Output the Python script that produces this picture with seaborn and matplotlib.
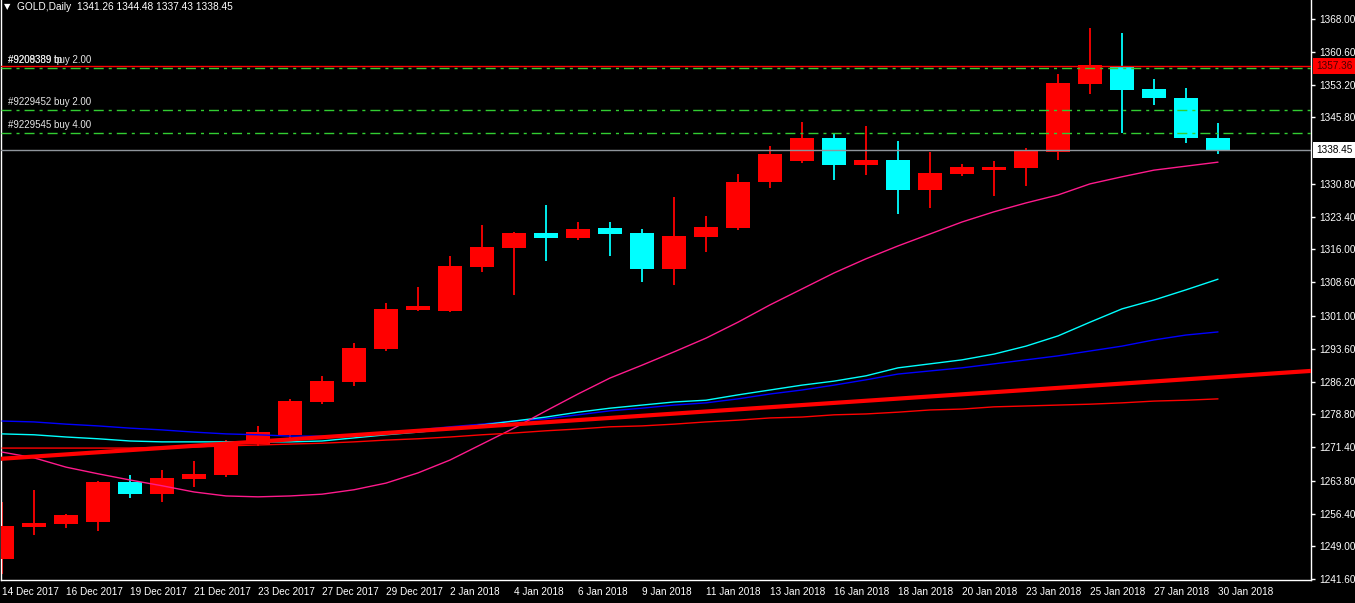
import matplotlib
matplotlib.use('Agg')
import matplotlib.pyplot as plt
import matplotlib.transforms as mtransforms
import seaborn as sns
import numpy as np
import pandas as pd

# GOLD daily candles
opens = [1246.2, 1253.4, 1254.1, 1254.5, 1263.5, 1260.8, 1264.2, 1265.1, 1272.1, 1274.2,
         1281.6, 1286.1, 1293.5, 1302.3, 1302.2, 1312.0, 1316.3, 1319.7, 1318.6, 1320.8,
         1319.7, 1311.6, 1318.8, 1320.8, 1331.2, 1336.0, 1341.2, 1335.1, 1336.2, 1329.4,
         1333.0, 1333.9, 1334.4, 1338.0, 1353.3, 1357.4, 1352.2, 1350.2, 1341.26]
highs = [1259.0, 1261.7, 1256.3, 1263.7, 1265.1, 1266.3, 1268.3, 1273.0, 1276.2, 1282.3,
         1287.5, 1294.9, 1303.9, 1307.5, 1314.5, 1321.5, 1320.0, 1326.0, 1322.2, 1322.2,
         1320.6, 1327.8, 1323.6, 1333.0, 1339.3, 1344.8, 1342.3, 1343.9, 1340.5, 1338.0,
         1335.3, 1336.0, 1338.9, 1355.6, 1366.0, 1364.8, 1354.5, 1352.4, 1344.48]
lows = [1242.8, 1251.6, 1253.2, 1252.5, 1259.9, 1259.0, 1262.4, 1264.7, 1271.7, 1273.5,
        1281.1, 1285.2, 1293.1, 1302.1, 1302.0, 1310.9, 1305.7, 1313.4, 1318.1, 1314.5,
        1308.7, 1308.0, 1315.4, 1320.4, 1329.9, 1335.5, 1331.7, 1332.8, 1324.0, 1325.4,
        1332.6, 1328.1, 1330.3, 1336.2, 1351.1, 1342.3, 1348.6, 1340.0, 1337.43]
closes = [1253.6, 1254.3, 1256.1, 1263.5, 1260.8, 1264.4, 1265.4, 1272.3, 1274.8, 1281.8,
          1286.3, 1293.8, 1302.6, 1303.2, 1312.3, 1316.6, 1319.7, 1318.6, 1320.6, 1319.5,
          1311.6, 1319.0, 1321.1, 1331.2, 1337.5, 1341.2, 1335.1, 1336.2, 1329.4, 1333.3,
          1334.6, 1334.6, 1338.2, 1353.6, 1357.6, 1352.0, 1350.2, 1341.1, 1338.45]

# moving averages drawn on the chart
ma_pink = [1270.3, 1269.0, 1266.9, 1265.4, 1264.0, 1262.7, 1261.3, 1260.4, 1260.2, 1260.4,
           1260.8, 1261.8, 1263.3, 1265.6, 1268.5, 1272.1, 1275.7, 1279.6, 1283.4, 1287.0,
           1289.9, 1292.9, 1296.0, 1299.6, 1303.5, 1307.1, 1310.7, 1313.9, 1316.8, 1319.5,
           1322.2, 1324.5, 1326.5, 1328.3, 1330.8, 1332.4, 1333.9, 1334.8, 1335.7]
ma_cyan = [1274.4, 1274.2, 1273.7, 1273.3, 1272.8, 1272.6, 1272.6, 1272.6, 1272.6, 1272.6,
           1272.8, 1273.5, 1274.2, 1274.8, 1275.5, 1276.4, 1277.3, 1278.2, 1279.3, 1280.2,
           1280.9, 1281.6, 1282.0, 1283.2, 1284.3, 1285.4, 1286.3, 1287.5, 1289.3, 1290.2,
           1291.1, 1292.4, 1294.2, 1296.5, 1299.6, 1302.6, 1304.6, 1306.9, 1309.3]
ma_blue = [1277.3, 1277.1, 1276.6, 1276.2, 1275.7, 1275.3, 1274.8, 1274.4, 1274.2, 1273.9,
           1273.9, 1274.2, 1274.6, 1275.3, 1276.0, 1276.6, 1277.3, 1277.8, 1278.7, 1279.6,
           1280.2, 1280.9, 1281.4, 1282.3, 1283.4, 1284.3, 1285.4, 1286.6, 1287.9, 1288.6,
           1289.3, 1290.2, 1291.1, 1292.0, 1293.1, 1294.2, 1295.6, 1296.7, 1297.4]
ma_red = [1271.2, 1271.2, 1271.2, 1271.2, 1271.2, 1271.4, 1271.4, 1271.7, 1271.9, 1272.1,
          1272.3, 1272.6, 1273.0, 1273.3, 1273.7, 1274.2, 1274.6, 1275.1, 1275.5, 1276.0,
          1276.2, 1276.6, 1277.1, 1277.5, 1278.0, 1278.2, 1278.7, 1278.9, 1279.3, 1279.8,
          1280.0, 1280.5, 1280.7, 1280.9, 1281.1, 1281.4, 1281.8, 1282.0, 1282.3]

# thick red trend line: price at first and last bar
trend_bars = [0, 38]
trend_prices = [1268.8, 1287.2]

# order lines
order_prices = [1356.90, 1347.47, 1342.28]
order_labels = ['#9209389 buy 2.00', '#9229452 buy 2.00', '#9229545 buy 4.00']
tp_price = 1357.36
tp_label = '#9208389 tp'
bid_price = 1338.45

date_labels = ['14 Dec 2017', '16 Dec 2017', '19 Dec 2017', '21 Dec 2017', '23 Dec 2017',
               '27 Dec 2017', '29 Dec 2017', '2 Jan 2018', '4 Jan 2018', '6 Jan 2018',
               '9 Jan 2018', '11 Jan 2018', '13 Jan 2018', '16 Jan 2018', '18 Jan 2018',
               '20 Jan 2018', '23 Jan 2018', '25 Jan 2018', '27 Jan 2018', '30 Jan 2018']
price_ticks = [1368.00, 1360.60, 1353.20, 1345.80, 1330.80, 1323.40, 1316.00,
               1308.60, 1301.00, 1293.60, 1286.20, 1278.80, 1271.40, 1263.80, 1256.40,
               1249.00, 1241.60]

sns.set_theme(style='dark', rc={'axes.facecolor': 'black', 'figure.facecolor': 'black'})
plt.rcParams['font.family'] = ['Liberation Sans', 'DejaVu Sans']

W, H = 1355, 603
fig = plt.figure(figsize=(W / 100, H / 100), dpi=100, facecolor='black')
ax = fig.add_axes([1 / W, (H - 580) / H, 1310 / W, 580 / H])
ax.set_facecolor('black')

bars = np.arange(len(opens))
o, hi, lo, c = map(np.array, (opens, highs, lows, closes))
colors = np.where(c >= o, '#ff0000', '#00ffff')

# candles
ax.vlines(bars, lo, hi, colors=colors, linewidth=1.3, zorder=2)
ax.bar(bars, np.maximum(np.abs(c - o), 0.25), bottom=np.minimum(o, c), width=0.78,
       color=colors, linewidth=0, zorder=3)

# moving averages
df = pd.DataFrame({'bar': np.tile(bars, 4),
                   'value': ma_pink + ma_cyan + ma_blue + ma_red,
                   'ma': np.repeat(['pink', 'cyan', 'blue', 'red'], len(bars))})
palette = {'pink': '#ff1a8c', 'cyan': '#00ffff', 'blue': '#0000ff', 'red': '#ff0000'}
for name, sub in df.groupby('ma'):
    sns.lineplot(data=sub, x='bar', y='value', color=palette[name], linewidth=1.0,
                 estimator=None, ax=ax, zorder=4)
ax.axline((trend_bars[0], trend_prices[0]), (trend_bars[1], trend_prices[1]),
          color='#ff0000', linewidth=3, zorder=4)

# order / tp / bid lines
blend = mtransforms.blended_transform_factory(ax.transAxes, ax.transData)
for p in order_prices:
    ax.axhline(p, color='#32cd32', linewidth=1, dashes=(7.2, 3.6, 2.2, 3.6), zorder=5)
ax.axhline(tp_price, color='#ff0000', linewidth=1, zorder=5)
ax.axhline(bid_price, color='#8f959c', linewidth=1, zorder=5)

for p, lab in zip(order_prices, order_labels):
    ax.annotate(lab, (7 / 1310, p), xycoords=blend, xytext=(0, 2.5), textcoords='offset points',
                color='#e6e6e6', fontsize=7, va='bottom', ha='left')
ax.annotate(tp_label, (7 / 1310, order_prices[0]), xycoords=blend, xytext=(0, 2.5),
            textcoords='offset points', color='#e6e6e6', fontsize=7, va='bottom', ha='left')

# price tags on the right axis
ax.text(1 + 5 / 1310, tp_price, '%.2f' % tp_price, transform=blend, color='#4a0000',
        fontsize=7.2, va='center', ha='left', clip_on=False, zorder=10,
        bbox=dict(boxstyle='square,pad=0.3', facecolor='#ff0000', edgecolor='none'))
ax.text(1 + 5 / 1310, bid_price, '%.2f' % bid_price, transform=blend, color='black',
        fontsize=7.2, va='center', ha='left', clip_on=False, zorder=10,
        bbox=dict(boxstyle='square,pad=0.3', facecolor='white', edgecolor='none'))

ax.set_xlim(-1 / 32, 1309 / 32)
ax.set_ylim(1241.44, 1372.28)
ax.set_xlabel('')
ax.set_ylabel('')
ax.grid(False)

ax.set_xticks(bars[::2])
ax.set_xticklabels(date_labels)
for lbl in ax.get_xticklabels():
    lbl.set_ha('left')
ax.yaxis.tick_right()
ax.set_yticks(price_ticks)
ax.set_yticklabels(['%.2f' % v for v in price_ticks])
ax.tick_params(axis='both', colors='white', labelcolor='white', labelsize=7.2,
               direction='out', length=3, width=1)
ax.tick_params(axis='x', pad=2)
ax.tick_params(axis='y', pad=3)

for side in ['left', 'bottom', 'right']:
    ax.spines[side].set_visible(True)
    ax.spines[side].set_color('white')
    ax.spines[side].set_linewidth(1)
ax.spines['top'].set_visible(False)

fig.text(4 / W, 1 - 7 / H, '\u25bc', color='white', fontsize=6, va='center', ha='left',
         family=['DejaVu Sans'])
fig.text(17 / W, 1 - 7 / H, 'GOLD,Daily  1341.26 1344.48 1337.43 1338.45', color='white',
         fontsize=7.3, va='center', ha='left')

fig.savefig('out.png', dpi=100, facecolor='black')
